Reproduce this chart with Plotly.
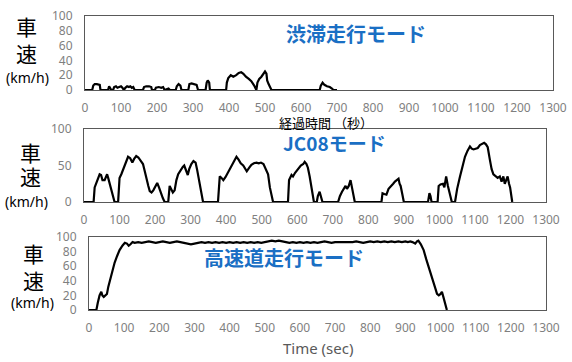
import plotly.graph_objects as go

# ---- Data ----
# Congestion mode (渋滞走行モード)
cong_t = [0, 20, 23, 27, 33, 38, 41, 43, 64, 67, 70, 73, 78, 81, 86, 90, 95, 100, 104, 108, 112, 117, 122, 126, 130, 134, 138,
          161, 164, 170, 178, 184, 186, 194, 197, 205, 212, 217, 221, 226, 232, 236, 252, 255, 260, 265, 268, 287, 290, 296,
          303, 310, 314, 335, 338, 341, 345, 347, 392, 394, 398, 405, 412, 420, 427, 434, 440, 447, 455, 462, 470, 476, 479,
          484, 490, 496, 500, 504, 506, 510, 513, 518, 652, 655, 660, 665, 672, 680, 686, 690, 700]
cong_v = [0, 0, 6, 8, 8, 7, 7, 0, 0, 5, 3, 0, 0, 4, 5, 3, 4, 5, 3, 0, 3, 5, 4, 5, 3, 4, 0,
          0, 4, 5, 5, 4, 0, 0, 3, 4, 3, 4, 0, 1, 2, 0, 0, 5, 8, 6, 0, 0, 8, 9,
          8, 7, 0, 0, 10, 13, 10, 0, 0, 10, 16, 20, 18, 20, 23, 24, 22, 18, 15, 12, 6, 0, 10,
          15, 18, 23, 25, 22, 13, 8, 5, 0, 0, 6, 10, 7, 5, 4, 2, 0, 0]

# JC08 mode
jc_t = [0, 27, 30, 36, 44, 48, 52, 58, 65, 68, 72, 78, 86, 96, 100, 105, 110, 117, 124, 130, 136, 141, 147, 153, 160, 166,
        171, 176, 181, 185, 190, 195, 200, 206, 211, 216, 222, 227, 237, 241, 245, 250, 255, 260, 265, 272, 278, 282, 287,
        292, 296, 302, 308, 314, 318, 322, 326, 331, 335, 377, 382, 387, 392, 398, 405, 410, 418, 424, 429, 435, 441, 448,
        454, 458, 465, 471, 478, 485, 492, 498, 505, 510, 515, 518, 523, 527, 532, 574, 577, 584, 588, 594, 603, 610, 617,
        621, 626, 630, 635, 640, 647, 655, 658, 663, 667, 671, 715, 720, 726, 730, 736, 740, 745, 750, 754, 758, 762, 837,
        840, 845, 851, 857, 863, 870, 875, 880, 885, 888, 891, 896, 900, 968, 972, 975, 978, 995, 998, 1003, 1010, 1014,
        1019, 1024, 1028, 1035, 1044, 1050, 1058, 1065, 1072, 1079, 1086, 1091, 1096, 1102, 1108, 1114, 1120, 1126, 1131,
        1136, 1142, 1147, 1152, 1158, 1164, 1170, 1175, 1180, 1184, 1188, 1192, 1196, 1199, 1205]
jc_v = [0, 0, 20, 28, 38, 37, 30, 30, 38, 33, 25, 15, 0, 0, 33, 38, 45, 55, 62, 60, 54, 59, 63, 61, 57, 52,
        42, 30, 22, 15, 13, 16, 20, 26, 20, 12, 5, 0, 0, 22, 18, 13, 16, 30, 38, 44, 48, 50, 44,
        37, 45, 52, 56, 54, 45, 35, 25, 10, 0, 0, 35, 33, 30, 34, 40, 45, 52, 58, 62, 58, 53, 50,
        45, 42, 47, 51, 53, 54, 53, 54, 52, 47, 42, 38, 20, 10, 0, 0, 30, 37, 35, 40, 45, 50, 52,
        55, 52, 47, 35, 20, 0, 0, 8, 14, 8, 0, 0, 8, 14, 18, 22, 18, 22, 30, 20, 10, 0, 0,
        12, 11, 10, 18, 22, 25, 28, 30, 32, 25, 22, 10, 0, 0, 12, 8, 0, 0, 22, 24, 25, 20,
        35, 22, 15, 0, 0, 18, 35, 50, 62, 70, 76, 73, 72, 73, 74, 78, 80, 81, 79,
        75, 58, 45, 38, 35, 33, 35, 28, 35, 25, 30, 35, 25, 20, 0]

# Highway mode (高速道走行モード)
hw_t = [0, 21, 25, 30, 35, 38, 42, 47, 51, 55, 59, 65, 73, 80, 87, 95, 102, 108, 113, 118, 124, 130, 140, 150, 160, 170,
        180, 190, 200, 210, 220, 230, 240, 250, 260, 270, 280, 290, 300, 310, 320, 330, 340, 350, 360, 370, 380, 390, 400,
        410, 420, 430, 440, 450, 460, 470, 480, 490, 500, 510, 520, 530, 540, 550, 560, 570, 580, 590, 600, 610, 620, 630,
        640, 650, 660, 670, 680, 690, 700, 710, 720, 730, 740, 750, 760, 770, 780, 790, 800, 810, 820, 830, 840, 850, 860,
        870, 880, 890, 900, 907, 914, 920, 928, 933, 937, 944, 952, 959, 966, 973, 980, 985, 990, 995, 1000, 1004, 1008,
        1013, 1018]
hw_v = [0, 0, 10, 20, 25, 20, 18, 20, 22, 32, 40, 50, 65, 74, 82, 88, 92, 91, 88, 90, 93, 92, 93, 92, 93, 94,
        93, 92, 93, 94, 93, 92, 93, 94, 93, 92, 91, 90, 91, 92, 93, 92, 93, 92, 93, 92, 93, 92, 93,
        92, 93, 92, 93, 92, 93, 92, 93, 92, 93, 94, 95, 94, 95, 94, 93, 92, 93, 92, 93, 92, 93, 92,
        93, 92, 93, 94, 93, 92, 93, 93, 92, 93, 92, 93, 94, 93, 92, 93, 94, 93, 94, 93, 94, 93, 94,
        93, 94, 93, 94, 93, 94, 93, 91, 94, 95, 90, 82, 70, 60, 48, 38, 30, 22, 20, 22, 25, 18,
        8, 0]

x_ticks = [0, 100, 200, 300, 400, 500, 600, 700, 800, 900, 1000, 1100, 1200, 1300]

W, H = 572, 362
# plot areas in pixels: (left, right, top, bottom)
areas = [(85, 553, 16, 90), (84, 546, 129, 202), (89, 546, 237, 310)]

fig = go.Figure()
series = [(cong_t, cong_v), (jc_t, jc_v), (hw_t, hw_v)]
for i, (t, v) in enumerate(series):
    sfx = "" if i == 0 else str(i + 1)
    fig.add_trace(go.Scatter(x=t, y=v, mode="lines", line=dict(color="black", width=2.2),
                             xaxis="x" + sfx, yaxis="y" + sfx, showlegend=False, hoverinfo="skip"))

tickfont = dict(family="Noto Sans", size=12, color="#7f7f7f")
layout = dict(width=W, height=H, margin=dict(l=0, r=0, t=0, b=0, autoexpand=False),
              paper_bgcolor="white", plot_bgcolor="white", showlegend=False)
ytick_sets = [[0, 20, 40, 60, 80, 100], [0, 50, 100], [0, 20, 40, 60, 80, 100]]
for i, (l, r, tp, bt) in enumerate(areas):
    sfx = "" if i == 0 else str(i + 1)
    layout["xaxis" + sfx] = dict(domain=[l / W, r / W], range=[0, 1300], anchor="y" + sfx,
                                 tickvals=x_ticks, ticks="", showgrid=False, zeroline=False,
                                 showline=True, linecolor="#595959", linewidth=1, mirror=True,
                                 tickfont=tickfont, ticklabelstandoff=7, automargin=False)
    layout["yaxis" + sfx] = dict(domain=[1 - bt / H, 1 - tp / H], range=[0, 100], anchor="x" + sfx,
                                 tickvals=ytick_sets[i], ticks="", showgrid=False, zeroline=False,
                                 showline=True, linecolor="#595959", linewidth=1, mirror=True,
                                 tickfont=tickfont, ticklabelstandoff=9, automargin=False)
fig.update_layout(**layout)

ann = []
jp = "Noto Sans CJK JP"
# y-axis labels
ylab_pos = [(26, 26, 53, 27, 77), (30, 152, 176, 26, 201), (33, 253, 280, 32, 302)]
for (xc, y1, y2, xk, yk) in ylab_pos:
    ann.append(dict(text="車", x=xc / W, y=1 - y1 / H, font=dict(family=jp, size=21, color="black")))
    ann.append(dict(text="速", x=xc / W, y=1 - y2 / H, font=dict(family=jp, size=21, color="black")))
    ann.append(dict(text="(km/h)", x=xk / W, y=1 - yk / H, font=dict(family="Noto Sans", size=14, color="black")))

blue = "#1a6fc4"
ann.append(dict(text="<b>渋滞走行モード</b>", x=356 / W, y=1 - 34 / H, font=dict(family=jp, size=20, color=blue)))
ann.append(dict(text="<b>JC08モード</b>", x=334 / W, y=1 - 142 / H, font=dict(family=jp, size=19, color=blue)))
ann.append(dict(text="<b>高速道走行モード</b>", x=284 / W, y=1 - 257 / H, font=dict(family=jp, size=20, color=blue)))
ann.append(dict(text="経過時間 （秒）", x=326 / W, y=1 - 122 / H, font=dict(family=jp, size=13, color="black")))
ann.append(dict(text="Time (sec)", x=318 / W, y=1 - 348 / H, font=dict(family="Noto Sans", size=15, color="#595959")))

for a in ann:
    a.update(xref="paper", yref="paper", showarrow=False, xanchor="center", yanchor="middle")
fig.update_layout(annotations=ann)

fig.write_html("out.html", post_script="document.body.style.margin='0';",
               config={"displayModeBar": False})
